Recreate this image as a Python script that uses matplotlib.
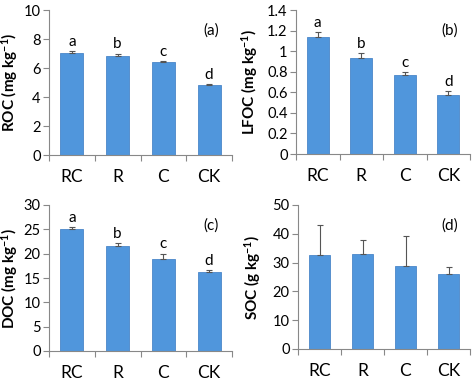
import matplotlib
matplotlib.use('Agg')
import matplotlib.pyplot as plt

plt.rcParams['font.family'] = ['Lato', 'DejaVu Sans']
plt.rcParams['mathtext.default'] = 'regular'

# data
categories = ['RC', 'R', 'C', 'CK']

roc = [7.05, 6.85, 6.4, 4.85]
roc_err = [0.1, 0.15, 0.1, 0.06]
roc_letters = ['a', 'b', 'c', 'd']

lfoc = [1.135, 0.93, 0.765, 0.57]
lfoc_err = [0.05, 0.05, 0.03, 0.045]
lfoc_letters = ['a', 'b', 'c', 'd']

doc = [25.0, 21.5, 18.9, 16.3]
doc_err = [0.4, 0.7, 1.1, 0.4]
doc_letters = ['a', 'b', 'c', 'd']

soc = [32.6, 32.9, 28.9, 25.9]
soc_err = [10.6, 4.9, 10.2, 2.4]

W, H = 474, 380
fig = plt.figure(figsize=(W / 100, H / 100), dpi=100)


def panel(box, labx, vals, errs, letters, ymax, ystep, ylabel, tag, yticklabels=None):
    l, r, t, b = box
    ax = fig.add_axes([l / W, (H - b) / H, (r - l) / W, (b - t) / H])
    x = range(len(vals))
    ax.bar(x, vals, width=0.5, color='#5096DC', edgecolor='#4A86C8', linewidth=0.6,
           yerr=[[0] * len(errs), errs], capsize=2.5,
           error_kw=dict(ecolor='#555555', elinewidth=0.8, capthick=0.8))
    if letters:
        for i, (v, e, s) in enumerate(zip(vals, errs, letters)):
            ax.text(i, v + e + ymax * 0.015, s, ha='center', va='bottom', fontsize=11)
    ax.set_xlim(-0.5, len(vals) - 0.5)
    ax.set_ylim(0, ymax)
    ticks = [i * ystep for i in range(int(round(ymax / ystep)) + 1)]
    ax.set_yticks(ticks)
    if yticklabels:
        ax.set_yticklabels(yticklabels)
    ax.set_xticks([i - 0.5 for i in range(len(vals) + 1)])
    ax.set_xticklabels([])
    ax.set_xticks(list(x), minor=True)
    ax.set_xticklabels(categories, minor=True, fontsize=12.5)
    ax.tick_params(axis='x', which='minor', length=0, pad=10)
    ax.tick_params(axis='x', which='major', length=4, color='#888888')
    ax.tick_params(axis='y', length=4, color='#888888', labelsize=10.5, pad=2)
    for s in ['top', 'right']:
        ax.spines[s].set_visible(False)
    for s in ['left', 'bottom']:
        ax.spines[s].set_color('#888888')
        ax.spines[s].set_linewidth(0.8)
    ax.set_ylabel(ylabel, fontweight='bold', fontsize=11, va='center')
    ax.yaxis.set_label_coords((labx - l) / (r - l), 0.5)
    ax.text(0.93, 0.86, tag, transform=ax.transAxes, ha='right', va='center', fontsize=11)
    return ax


panel((49, 232, 10, 155), 10, roc, roc_err, roc_letters, 10, 2,
      r'ROC (mg kg$^{-1}$)', '(a)')
panel((296, 470, 10, 154), 250, lfoc, lfoc_err, lfoc_letters, 1.4, 0.2,
      r'LFOC (mg kg$^{-1}$)', '(b)',
      ['0', '0.2', '0.4', '0.6', '0.8', '1', '1.2', '1.4'])
panel((49, 232, 205, 351), 10, doc, doc_err, doc_letters, 30, 5,
      r'DOC (mg kg$^{-1}$)', '(c)')
panel((298, 470, 205, 349), 253, soc, soc_err, None, 50, 10,
      r'SOC (g kg$^{-1}$)', '(d)')

fig.savefig('out.png', dpi=100)
